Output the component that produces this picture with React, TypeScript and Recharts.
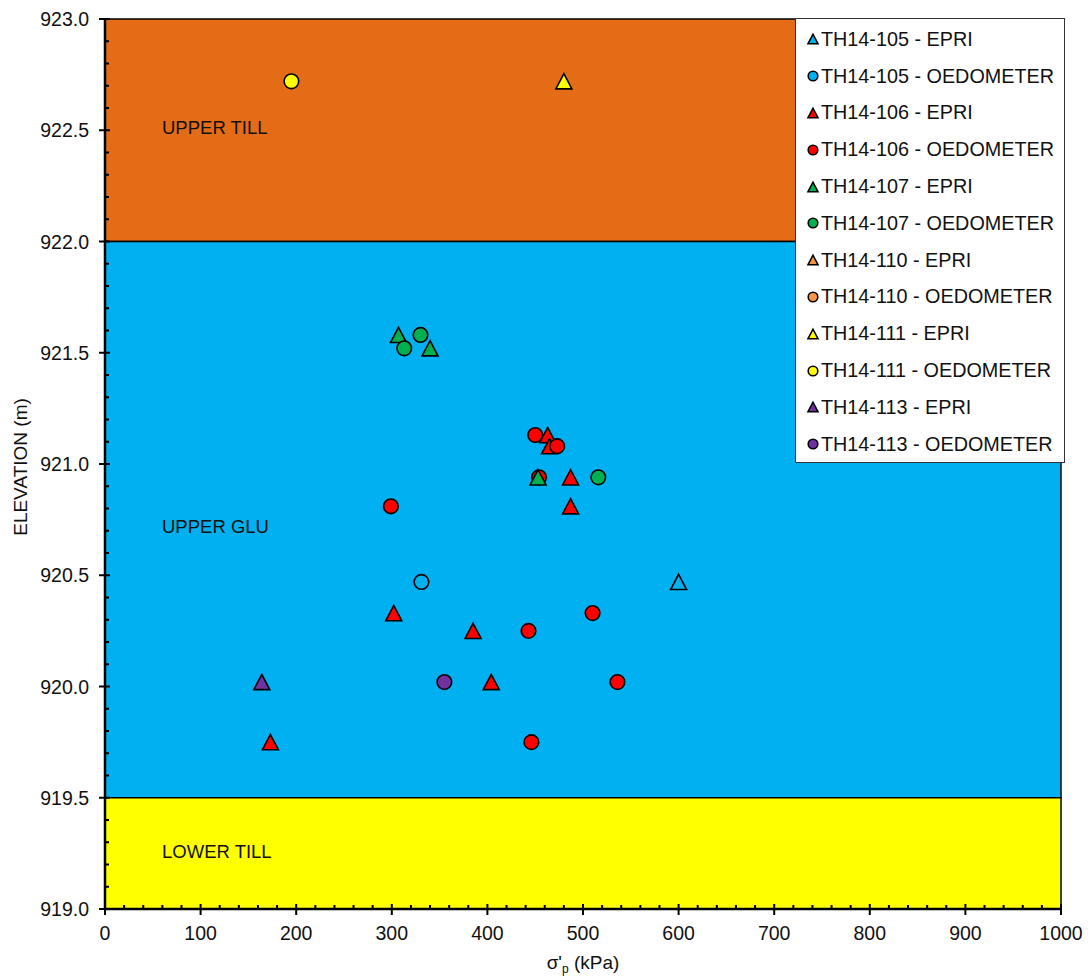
import {
  ScatterChart,
  Scatter,
  XAxis,
  YAxis,
  ReferenceArea,
} from 'recharts'

type Pt = { s: number; elev: number }

// σ'p (kPa) vs elevation (m)
const TH105_EPRI: Pt[] = [{ s: 600, elev: 920.47 }]
const TH105_OED: Pt[] = [{ s: 331, elev: 920.47 }]
const TH106_EPRI: Pt[] = [
  { s: 463, elev: 921.13 },
  { s: 465, elev: 921.08 },
  { s: 487, elev: 920.94 },
  { s: 487, elev: 920.81 },
  { s: 302, elev: 920.33 },
  { s: 385, elev: 920.25 },
  { s: 404, elev: 920.02 },
  { s: 173, elev: 919.75 },
]
const TH106_OED: Pt[] = [
  { s: 450, elev: 921.13 },
  { s: 473, elev: 921.08 },
  { s: 454, elev: 920.94 },
  { s: 299, elev: 920.81 },
  { s: 510, elev: 920.33 },
  { s: 443, elev: 920.25 },
  { s: 536, elev: 920.02 },
  { s: 446, elev: 919.75 },
]
const TH107_EPRI: Pt[] = [
  { s: 307, elev: 921.58 },
  { s: 340, elev: 921.52 },
  { s: 453, elev: 920.94 },
]
const TH107_OED: Pt[] = [
  { s: 330, elev: 921.58 },
  { s: 313, elev: 921.52 },
  { s: 516, elev: 920.94 },
]
const TH110_EPRI: Pt[] = []
const TH110_OED: Pt[] = []
const TH111_EPRI: Pt[] = [{ s: 480, elev: 922.72 }]
const TH111_OED: Pt[] = [{ s: 195, elev: 922.72 }]
const TH113_EPRI: Pt[] = [{ s: 164, elev: 920.02 }]
const TH113_OED: Pt[] = [{ s: 355, elev: 920.02 }]

const SERIES = [
  { name: 'TH14-105 - EPRI', data: TH105_EPRI, color: '#00B0F0', tri: true },
  { name: 'TH14-105 - OEDOMETER', data: TH105_OED, color: '#00B0F0', tri: false },
  { name: 'TH14-106 - EPRI', data: TH106_EPRI, color: '#FF0000', tri: true },
  { name: 'TH14-106 - OEDOMETER', data: TH106_OED, color: '#FF0000', tri: false },
  { name: 'TH14-107 - EPRI', data: TH107_EPRI, color: '#00B050', tri: true },
  { name: 'TH14-107 - OEDOMETER', data: TH107_OED, color: '#00B050', tri: false },
  { name: 'TH14-110 - EPRI', data: TH110_EPRI, color: '#F79646', tri: true },
  { name: 'TH14-110 - OEDOMETER', data: TH110_OED, color: '#F79646', tri: false },
  { name: 'TH14-111 - EPRI', data: TH111_EPRI, color: '#FFFF00', tri: true },
  { name: 'TH14-111 - OEDOMETER', data: TH111_OED, color: '#FFFF00', tri: false },
  { name: 'TH14-113 - EPRI', data: TH113_EPRI, color: '#7030A0', tri: true },
  { name: 'TH14-113 - OEDOMETER', data: TH113_OED, color: '#7030A0', tri: false },
]

// soil units
const BANDS = [
  { label: 'UPPER TILL', from: 922, to: 923, fill: '#E46C17', dy: -3 },
  { label: 'UPPER GLU', from: 919.5, to: 922, fill: '#00B0F0', dy: 6 },
  { label: 'LOWER TILL', from: 919, to: 919.5, fill: '#FFFF00', dy: -2 },
]

const X_MAJOR = [0, 100, 200, 300, 400, 500, 600, 700, 800, 900, 1000]
const Y_MAJOR = [919, 919.5, 920, 920.5, 921, 921.5, 922, 922.5, 923]

// minor ticks: 5 per major step on x, 5 per major step on y
const X_TICKS = X_MAJOR.flatMap((v, i) =>
  i === 0 ? [v] : [1, 2, 3, 4, 5].map(k => X_MAJOR[i - 1] + (k * (v - X_MAJOR[i - 1])) / 5),
)
const Y_TICKS = Y_MAJOR.flatMap((v, i) =>
  i === 0 ? [v] : [1, 2, 3, 4, 5].map(k => +(Y_MAJOR[i - 1] + (k * (v - Y_MAJOR[i - 1])) / 5).toFixed(2)),
)

const FONT = '"Liberation Sans", Arial, sans-serif'
const FS = 19.5

function isMajorY(v: number) {
  return Y_MAJOR.some(m => Math.abs(m - v) < 1e-6)
}

function XTick(props: any) {
  const { x, y, payload } = props
  const major = X_MAJOR.includes(payload.value)
  return (
    <g>
      <line x1={x} x2={x} y1={y - (major ? 5 : 4)} y2={y + (major ? 6 : 0)} stroke="#000" strokeWidth={2} />
      {major && (
        <text x={x} y={y + 31} textAnchor="middle" fontFamily={FONT} fontSize={FS} fill="#111">
          {payload.value}
        </text>
      )}
    </g>
  )
}

function YTick(props: any) {
  const { x, y, payload } = props
  const major = isMajorY(payload.value)
  return (
    <g>
      <line x1={x - (major ? 6 : 0)} x2={x + (major ? 5 : 4)} y1={y} y2={y} stroke="#000" strokeWidth={2} />
      {major && (
        <text x={x - 16} y={y + 7} textAnchor="end" fontFamily={FONT} fontSize={FS} fill="#111">
          {Number(payload.value).toFixed(1)}
        </text>
      )}
    </g>
  )
}

function Triangle({ cx, cy, fill, size = 8 }: any) {
  const h = size * 0.95
  return (
    <polygon
      points={`${cx},${cy - h} ${cx + size},${cy + h} ${cx - size},${cy + h}`}
      fill={fill}
      stroke="#000"
      strokeWidth={1.6}
      strokeLinejoin="miter"
    />
  )
}

function Dot({ cx, cy, fill, r = 7.3 }: any) {
  return <circle cx={cx} cy={cy} r={r} fill={fill} stroke="#000" strokeWidth={1.6} />
}

function LegendBox() {
  return (
    <div
      style={{
        position: 'absolute',
        left: 795,
        top: 18,
        width: 270,
        height: 445,
        border: '1.5px solid #333',
        background: '#fff',
        boxSizing: 'border-box',
        paddingTop: 2,
      }}
    >
      {SERIES.map(s => (
        <div key={s.name} style={{ display: 'flex', alignItems: 'center', height: 36.8 }}>
          <svg width={24} height={20} style={{ marginLeft: 5 }}>
            {s.tri ? (
              <Triangle cx={12} cy={10} fill={s.color} size={5} />
            ) : (
              <Dot cx={12} cy={10} fill={s.color} r={4.8} />
            )}
          </svg>
          <span style={{ font: `${FS + 0.3}px ${FONT}`, color: '#111', marginLeft: -4 }}>{s.name}</span>
        </div>
      ))}
    </div>
  )
}

export default function App() {
  return (
    <div style={{ position: 'absolute', left: 0, top: 0, width: 1088, height: 977, background: '#fff' }}>
      <ScatterChart width={1088} height={977} margin={{ top: 19, right: 27, bottom: 0, left: 0 }}>
        <XAxis
          type="number"
          dataKey="s"
          domain={[0, 1000]}
          ticks={X_TICKS}
          interval={0}
          height={68}
          tickSize={0}
          tickMargin={0}
          tickLine={false}
          tick={<XTick />}
          axisLine={{ stroke: '#000', strokeWidth: 2.5 }}
          allowDataOverflow
          label={{
            content: ({ viewBox }: any) => (
              <text
                x={viewBox.x + viewBox.width / 2}
                y={viewBox.y + 60}
                textAnchor="middle"
                fontFamily={FONT}
                fontSize={FS - 0.5}
                fill="#111"
              >
                <tspan fill="#111">σ'</tspan>
                <tspan fill="#111" fontSize={12} dy={4}>p</tspan>
                <tspan fill="#111" dy={-4}> (kPa)</tspan>
              </text>
            ),
          }}
        />
        <YAxis
          type="number"
          dataKey="elev"
          domain={[919, 923]}
          ticks={Y_TICKS}
          interval={0}
          width={105}
          tickSize={0}
          tickMargin={0}
          tickLine={false}
          tick={<YTick />}
          axisLine={{ stroke: '#000', strokeWidth: 2.5 }}
          allowDataOverflow
          label={{
            content: ({ viewBox }: any) => {
              const cy = viewBox.y + viewBox.height / 2 + 3
              return (
                <text
                  x={27}
                  y={cy}
                  transform={`rotate(-90 27 ${cy})`}
                  textAnchor="middle"
                  fontFamily={FONT}
                  fontSize={FS - 0.5}
                  fill="#111"
                >
                  ELEVATION (m)
                </text>
              )
            },
          }}
        />
        {BANDS.map(b => (
          <ReferenceArea
            key={b.label}
            x1={0}
            x2={1000}
            y1={b.from}
            y2={b.to}
            fill={b.fill}
            fillOpacity={1}
            stroke="#000"
            strokeWidth={1.5}
            label={{
              content: ({ viewBox }: any) => (
                <text
                  x={viewBox.x + 57}
                  y={viewBox.y + viewBox.height / 2 + 7 + b.dy}
                  fontFamily={FONT}
                  fontSize={FS - 1}
                  fill="#111"
                >
                  {b.label}
                </text>
              ),
            }}
          />
        ))}
        {SERIES.map(s => (
          <Scatter
            key={s.name}
            name={s.name}
            data={s.data}
            fill={s.color}
            isAnimationActive={false}
            shape={(p: any) =>
              s.tri ? <Triangle cx={p.cx} cy={p.cy} fill={s.color} /> : <Dot cx={p.cx} cy={p.cy} fill={s.color} />
            }
          />
        ))}
      </ScatterChart>
      <LegendBox />
    </div>
  )
}
